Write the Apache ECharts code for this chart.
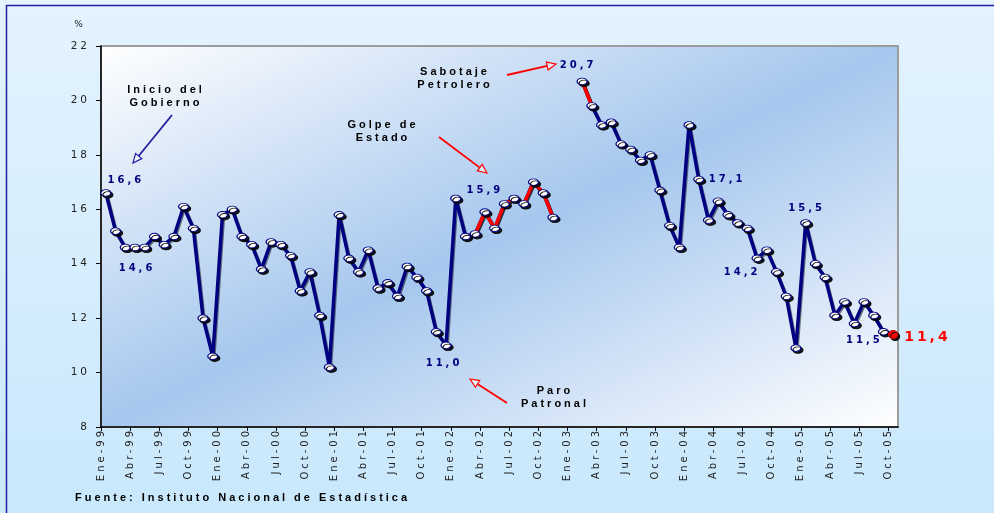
<!DOCTYPE html>
<html><head><meta charset="utf-8">
<script src="https://cdn.jsdelivr.net/npm/echarts@6/dist/echarts.min.js"></script>
<style>html,body{margin:0;padding:0;background:#d8eefd;}#c{width:994px;height:513px;}</style>
</head><body><div id="c"></div>
<script>
// ---- data ----
const meses = ['Ene','Feb','Mar','Abr','May','Jun','Jul','Ago','Sep','Oct','Nov','Dic'];
const anos = ['99','00','01','02','03','04','05'];
const d1999 = [16.6, 15.2, 14.6, 14.6, 14.6, 15.0, 14.7, 15.0, 16.1, 15.3, 12.0, 10.6];
const d2000 = [15.8, 16.0, 15.0, 14.7, 13.8, 14.8, 14.7, 14.3, 13.0, 13.7, 12.1, 10.2];
const d2001 = [15.8, 14.2, 13.7, 14.5, 13.1, 13.3, 12.8, 13.9, 13.5, 13.0, 11.5, 11.0];
const d2002 = [16.4, 15.0, 15.1, 15.9, 15.3, 16.2, 16.4, 16.2, 17.0, 16.6, 15.7, null];
const d2003 = [null, 20.7, 19.8, 19.1, 19.2, 18.4, 18.2, 17.8, 18.0, 16.7, 15.4, 14.6];
const d2004 = [19.1, 17.1, 15.6, 16.3, 15.8, 15.5, 15.3, 14.2, 14.5, 13.7, 12.8, 10.9];
const d2005 = [15.5, 14.0, 13.5, 12.1, 12.6, 11.8, 12.6, 12.1, 11.5, 11.4];
const yTicks = [8, 22, 2]; // min, max, interval
// index ranges (months) drawn in red
const tramosRojos = [[38, 42], [43, 46], [49, 50]];
// months carrying a value label
const etiquetados = [0, 3, 35, 39, 49, 61, 67, 72, 80, 81];

const valores = [].concat(d1999, d2000, d2001, d2002, d2003, d2004, d2005);
const todas = [];
anos.forEach(a => meses.forEach(m => todas.push(m + '-' + a)));
const categorias = todas.slice(0, valores.length);
const fronteras = todas.slice(0, valores.length + 1);

// ---- styling helpers ----
const NAVY = '#000080';
const labelPos = {
  0: {o: [20, -13]}, 3: {o: [2, 21]}, 35: {o: [-2, 18]}, 39: {o: [0, -22]},
  49: {o: [-4, -16]}, 61: {o: [10, 0], align: 'left'}, 67: {o: [-15, 14]},
  72: {o: [1, -14]}, 80: {o: [-19, 9]}, 81: {o: [11, 3], align: 'left', red: true}
};
const fmt = v => v.toFixed(1).replace('.', ',');

const markerData = valores.map((v, i) => {
  if (v == null) return null;
  const last = i === valores.length - 1;
  const item = {value: v};
  if (last) {
    item.itemStyle = {color: '#ff0000', borderColor: '#cc0000'};
    item.symbolSize = [9, 8];
  }
  if (etiquetados.includes(i)) {
    const p = labelPos[i];
    item.label = {
      show: true, position: 'inside', offset: p.o, formatter: fmt(v),
      align: p.align || 'center', verticalAlign: 'middle',
      color: p.red ? '#ff0000' : NAVY, fontWeight: 'bold',
      fontSize: p.red ? 14 : 10, fontFamily: 'DejaVu Sans',
      textShadowBlur: 0
    };
  }
  return item;
});

const redSeries = tramosRojos.map(([a, b]) => ({
  type: 'line', xAxisIndex: 0, yAxisIndex: 0, z: 3,
  data: valores.map((v, i) => (i >= a && i <= b ? v : null)),
  showSymbol: false, symbol: 'none', silent: true,
  lineStyle: {color: '#ff0000', width: 3.5, shadowColor: 'rgba(0,0,0,0.5)', shadowOffsetX: 1, shadowOffsetY: 1.5}
}));

function arrow(x1, y1, x2, y2, color) {
  const ang = Math.atan2(y2 - y1, x2 - x1);
  const L = 9, W = 4;
  const bx = x2 - L * Math.cos(ang), by = y2 - L * Math.sin(ang);
  const px = -Math.sin(ang) * W, py = Math.cos(ang) * W;
  return [
    {type: 'line', shape: {x1: x1, y1: y1, x2: bx, y2: by}, style: {stroke: color, lineWidth: 1.8}, z: 50},
    {type: 'polygon', shape: {points: [[x2, y2], [bx + px, by + py], [bx - px, by - py]]},
      style: {stroke: color, fill: 'rgba(255,255,255,0.6)', lineWidth: 1.2}, z: 50}
  ];
}
function txt(x, y, s, opt) {
  return Object.assign({type: 'text', x: x, y: y, z: 50,
    style: Object.assign({text: s, fill: '#000', font: 'bold 11px "Liberation Sans"', textAlign: 'center', textVerticalAlign: 'middle'}, opt || {})});
}

const option = {
  animation: false,
  backgroundColor: new echarts.graphic.LinearGradient(0, 0, 0, 1, [
    {offset: 0, color: '#e4f3fe'}, {offset: 1, color: '#c9e8fc'}]),
  grid: {
    left: 101, right: 96, top: 46, bottom: 86, show: true,
    borderColor: '#9c9c9c', borderWidth: 2,
    backgroundColor: new echarts.graphic.LinearGradient(0, 0, 0.372, 1.628, [
      {offset: 0, color: '#ffffff'}, {offset: 0.5, color: '#a6c7ee'}, {offset: 1, color: '#ffffff'}])
  },
  xAxis: [
    {type: 'category', data: categorias, boundaryGap: true,
     axisLine: {show: true, lineStyle: {color: '#000', width: 1.5}},
     axisTick: {show: false}, axisLabel: {show: false}, splitLine: {show: false}},
    {type: 'category', data: fronteras, boundaryGap: false, position: 'bottom',
     axisLine: {show: false}, splitLine: {show: false},
     axisTick: {show: true, interval: 2, length: 4, lineStyle: {color: '#000'}},
     axisLabel: {interval: 2, rotate: 90, margin: 1, color: '#222', fontSize: 10, fontFamily: 'DejaVu Sans'}}
  ],
  yAxis: {
    type: 'value', min: yTicks[0], max: yTicks[1], interval: yTicks[2],
    axisLine: {show: true, lineStyle: {color: '#000', width: 1.5}},
    axisTick: {show: true, length: 5, lineStyle: {color: '#000'}},
    splitLine: {show: false},
    axisLabel: {margin: 11, color: '#222', fontSize: 10.5, fontFamily: 'DejaVu Sans'}
  },
  series: [
    {type: 'line', data: valores, z: 2, showSymbol: false, symbol: 'none', silent: true,
     lineStyle: {color: NAVY, width: 3.5, shadowColor: 'rgba(0,0,0,0.5)', shadowOffsetX: 1, shadowOffsetY: 1.5}}
  ].concat(redSeries, [
    {type: 'scatter', data: markerData, z: 5, symbol: 'circle', symbolSize: [10, 6.5], silent: true,
     itemStyle: {color: '#ffffff', borderColor: NAVY, borderWidth: 1, opacity: 1,
       shadowColor: 'rgba(0,0,0,0.9)', shadowOffsetX: 2, shadowOffsetY: 2, shadowBlur: 0}}
  ]),
  graphic: [].concat(
    [{type: 'rect', shape: {x: 6.5, y: 5.5, width: 1100, height: 700}, style: {stroke: '#1f1fa0', fill: 'none', lineWidth: 1.5}, z: 60}],
    arrow(172, 115, 133, 163, '#2020a0'),
    arrow(439, 137, 487, 173, '#ff0000'),
    arrow(507, 75, 556, 64, '#ff0000'),
    arrow(507, 403, 470, 379, '#ff0000'),
    [
      txt(166, 90, 'Inicio del'), txt(166, 103, 'Gobierno'),
      txt(383, 125, 'Golpe de'), txt(383, 138, 'Estado'),
      txt(455, 72, 'Sabotaje'), txt(455, 85, 'Petrolero'),
      txt(555, 391, 'Paro'), txt(555, 404, 'Patronal'),
      txt(75, 498, 'Fuente: Instituto Nacional de Estadística', {textAlign: 'left'}),
      txt(80, 25, '%', {font: '9px "DejaVu Sans"', fill: '#222'})
    ]
  )
};

const chart = echarts.init(document.getElementById('c'), null, {renderer: 'canvas'});
try {
  const layer = chart.getZr().painter.getLayer(0);
  if (layer && layer.ctx) layer.ctx.letterSpacing = '3px';
} catch (e) {}
chart.setOption(option);
</script>
</body></html>
